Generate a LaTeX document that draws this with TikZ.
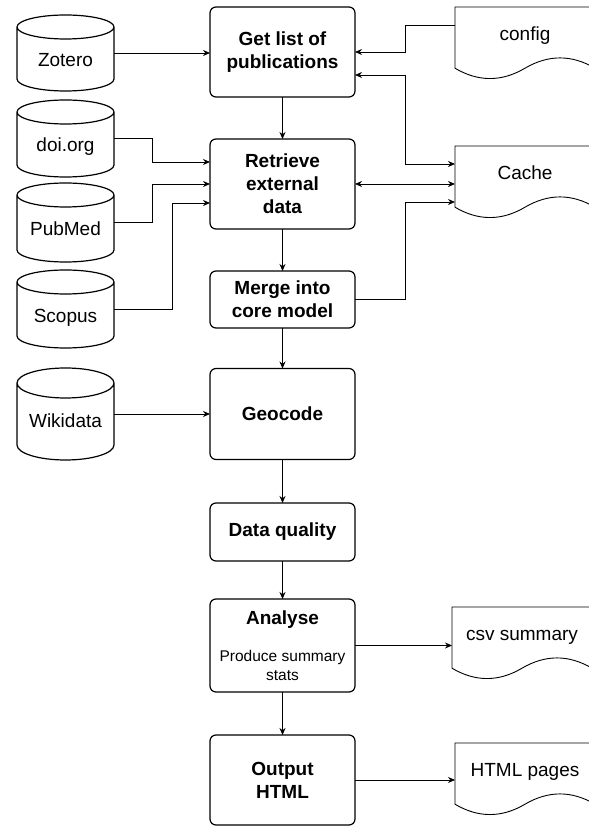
\documentclass[tikz,border=0pt]{standalone}
\usepackage{fontspec}
\setmainfont{Liberation Sans}
\usepackage{tikz}
\usetikzlibrary{arrows.meta, calc}

\newcommand{\stepnote}{\mdseries\fontsize{15.5}{18}\selectfont}

\tikzset{
  stepbox/.style={draw, line width=1.2pt, rounded corners=6pt, minimum width=145pt,
    inner sep=0pt, outer sep=0pt, align=center, font=\bfseries\fontsize{19}{23}\selectfont},
  source/.style={minimum width=97pt, inner sep=0pt, outer sep=0pt,
    text height=27pt, text depth=0pt, font=\fontsize{19}{22}\selectfont},
  doc/.style={minimum width=140pt, minimum height=72pt, inner sep=0pt, outer sep=0pt,
    anchor=north west, text height=13pt, text depth=18pt, font=\fontsize{19}{22}\selectfont},
  link/.style={line width=0.8pt, -{Stealth[length=7pt, width=6pt]}},
  twoway/.style={line width=0.8pt, {Stealth[length=7pt, width=6pt]}-{Stealth[length=7pt, width=6pt]}},
}

\begin{document}
\begin{tikzpicture}[x=1pt, y=1pt]
        \useasboundingbox (0,0) rectangle (589,828);
        \clip (0,0) rectangle (589,828);

        % Pipeline steps
        \node[stepbox, minimum height=90pt] (get) at (282.5, 776) {Get list of\\publications};
        \node[stepbox, minimum height=90pt] (ret) at (282.5, 644) {Retrieve\\external\\data};
        \node[stepbox, minimum height=57pt] (merge) at (282.5, 528.5) {Merge into\\core model};
        \node[stepbox, minimum height=91pt] (geo) at (282.5, 414) {Geocode};
        \node[stepbox, minimum height=58pt] (dq) at (282.5, 296) {Data quality};
        \node[stepbox, minimum height=93pt] (ana) at (282.5, 182.5)
            {Analyse\\[14pt]\stepnote Produce summary\\[-4pt]\stepnote stats};
        \node[stepbox, minimum height=90pt] (out) at (282.5, 48) {Output\\HTML};

        % Data sources
        \node[source, minimum height=76pt] (zotero) at (65.5, 775) {Zotero};
        \node[source, minimum height=77pt] (doi) at (65.5, 689.5) {doi.org};
        \node[source, minimum height=79pt] (pubmed) at (65.5, 605.5) {PubMed};
        \node[source, minimum height=78pt] (scopus) at (65.5, 519) {Scopus};
        \node[source, minimum height=92pt] (wiki) at (65.5, 414) {Wikidata};
        \foreach \s/\ry in {zotero/12, doi/12, pubmed/12, scopus/12, wiki/15} {
            \draw[line width=1.2pt] ($(\s.north west)+(0,-\ry)$)
                arc[start angle=180, end angle=360, x radius=48.5pt, y radius=\ry pt]
                arc[start angle=0, end angle=180, x radius=48.5pt, y radius=\ry pt]
                -- ($(\s.south west)+(0,\ry)$)
                arc[start angle=180, end angle=360, x radius=48.5pt, y radius=\ry pt]
                -- ($(\s.north east)+(0,-\ry)$);
        }

        % Files
        \node[doc] (cfg) at (455, 821) {config};
        \node[doc] (cache) at (455, 682) {Cache};
        \node[doc] (csv) at (452, 221) {csv summary};
        \node[doc] (html) at (455, 85) {HTML pages};
        \foreach \d in {cfg, cache, csv, html} {
            \draw[line width=0.9pt, shift={(\d.south west)}] (0,10.8) -- (0,72) -- (140,72) -- (140,10.8)
                .. controls (116.7,24.5) and (93.3,24.5) .. (70,10.8)
                .. controls (46.7,-3) and (23.3,-3) .. (0,10.8) -- cycle;
        }

        % Sources into steps
        \draw[link] (zotero.east) -- (zotero.east -| get.west);
        \draw[link] (doi.east) -- ++(38,0) |- ($(ret.west)+(0,22)$);
        \draw[link] (pubmed.east) -- ++(38,0) |- (ret.west);
        \draw[link] (scopus.east) -- ++(58,0) |- ($(ret.west)+(0,-19)$);
        \draw[link] (wiki.east) -- (wiki.east -| geo.west);

        % Main flow
        \draw[link] (get) -- (ret);
        \draw[link] (ret) -- (merge);
        \draw[link] (merge) -- (geo);
        \draw[link] (geo) -- (dq);
        \draw[link] (dq) -- (ana);
        \draw[link] (ana) -- (out);

        % Config and cache
        \draw[link] ($(cfg.west)+(0,18)$) -- ++(-50,0) |- (get.east);
        \draw[twoway] ($(get.east)+(0,-23)$) -- ++(50,0) |- ($(cache.west)+(0,18)$);
        \draw[twoway] (ret.east) -- (ret.east -| cache.west);
        \draw[link] (merge.east) -- ++(50,0) |- ($(cache.west)+(0,-20)$);

        % Outputs
        \draw[link] (ana.east) -- (ana.east -| csv.west);
        \draw[link] (out.east) -- (out.east -| html.west);
\end{tikzpicture}
\end{document}
